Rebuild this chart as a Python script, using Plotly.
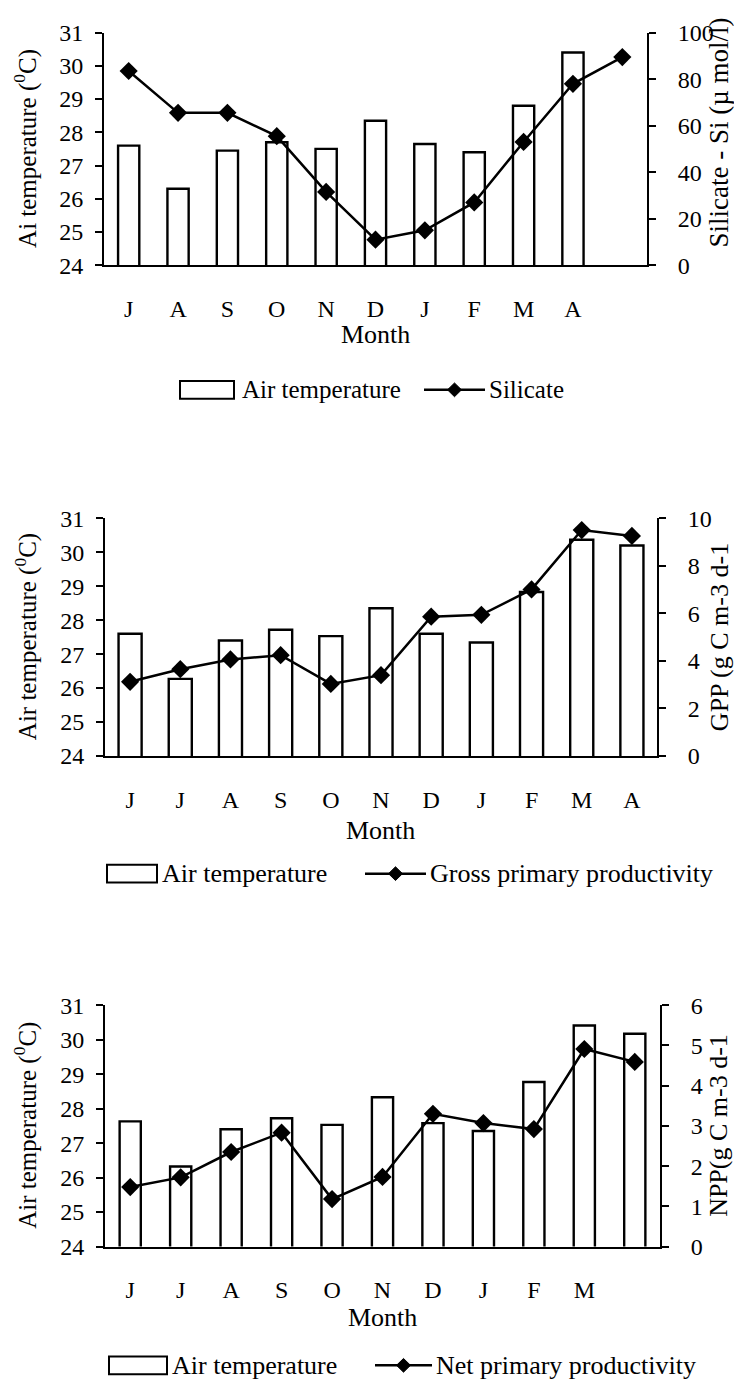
import plotly.graph_objects as go

W, H = 734, 1395
FONT = "Liberation Serif"

# ---------------- data ----------------
months_p1 = ["Jul", "Aug", "Sep", "Oct", "Nov", "Dec", "Jan", "Feb", "Mar", "Apr", "May"]
labels_p1 = ["J", "A", "S", "O", "N", "D", "J", "F", "M", "A"]
air_p1 = [27.6, 26.3, 27.45, 27.7, 27.5, 28.35, 27.65, 27.4, 28.8, 30.4]
silicate = [83.5, 65.5, 65.5, 55.5, 31.5, 11, 15, 27, 53, 78, 89.5]

months_p2 = ["Jun", "Jul", "Aug", "Sep", "Oct", "Nov", "Dec", "Jan", "Feb", "Mar", "Apr"]
labels_p2 = ["J", "J", "A", "S", "O", "N", "D", "J", "F", "M", "A"]
air_p2 = [27.6, 26.27, 27.4, 27.72, 27.53, 28.35, 27.6, 27.34, 28.83, 30.37, 30.2]
gpp = [3.12, 3.65, 4.06, 4.24, 3.03, 3.4, 5.86, 5.94, 7.01, 9.51, 9.26]

months_p3 = ["Jun", "Jul", "Aug", "Sep", "Oct", "Nov", "Dec", "Jan", "Feb", "Mar", "Apr"]
labels_p3 = ["J", "J", "A", "S", "O", "N", "D", "J", "F", "M"]
air_p3 = [27.63, 26.32, 27.4, 27.72, 27.53, 28.33, 27.58, 27.35, 28.77, 30.41, 30.17]
npp = [1.48, 1.72, 2.35, 2.83, 1.18, 1.73, 3.30, 3.07, 2.92, 4.91, 4.59]

temp_range = [24, 31]

panels = [
    dict(months=months_p1, labels=labels_p1, air=air_p1, line=silicate,
         line_name="Silicate", rrange=[0, 100], rdtick=20,
         ltitle="Ai temperature (<sup>0</sup>C)", rtitle="Silicate - Si (µ mol/l)",
         rtitle_bottom=241,
         x0=104, x1=647, ytop=20, ybot=257, month_y=328, bar_w=0.43,
         leg_y=384, leg=[180, 234, 240, 424, 485, 487], leg_size=25),
    dict(months=months_p2, labels=labels_p2, air=air_p2, line=gpp,
         line_name="Gross primary productivity", rrange=[0, 10], rdtick=2,
         ltitle="Air temperature (<sup>0</sup>C)", rtitle="GPP (g C m-3 d-1",
         rtitle_bottom=None,
         x0=105, x1=657, ytop=515, ybot=757, month_y=833, bar_w=0.46,
         leg_y=877, leg=[107, 157, 160, 365, 426, 428], leg_size=26),
    dict(months=months_p3, labels=labels_p3, air=air_p3, line=npp,
         line_name="Net primary productivity", rrange=[0, 6], rdtick=1,
         ltitle="Air temperature (<sup>0</sup>C)", rtitle="NPP(g C m-3 d-1",
         rtitle_bottom=None,
         x0=105, x1=660, ytop=1011, ybot=1257, month_y=1329, bar_w=0.42,
         leg_y=1378, leg=[109, 167, 170, 375, 432, 434], leg_size=26),
]


def fx(x):
    return x / W


def fy(y):
    return 1 - y / H


def nm(n):
    return "" if n == 1 else str(n)


fig = go.Figure()
layout = {}
annotations = []
shapes = []

axis_common = dict(showgrid=False, zeroline=False, linecolor="black", linewidth=2,
                   tickcolor="black", tickwidth=2, ticklen=7,
                   tickfont=dict(family=FONT, size=24, color="black"))

for p, P in enumerate(panels):
    n1, n2, n3, n4, n5 = (5 * p + k for k in range(1, 6))
    xdom = [fx(P["x0"]), fx(P["x1"])]
    ydom = [fy(P["ybot"]), fy(P["ytop"])]
    ncat = len(P["months"])

    fig.add_trace(go.Bar(
        x=P["months"][:len(P["air"])], y=P["air"], name="Air temperature",
        marker=dict(color="white", line=dict(color="black", width=2.4)),
        width=P["bar_w"], xaxis="x" + nm(n1), yaxis="y" + nm(n1), showlegend=False))
    fig.add_trace(go.Scatter(
        x=P["months"][:len(P["line"])], y=P["line"], name=P["line_name"],
        mode="lines+markers", line=dict(color="black", width=2.5),
        marker=dict(symbol="diamond", size=14, color="black"),
        xaxis="x" + nm(n1), yaxis="y" + nm(n2), showlegend=False))

    # category axis: labels only
    layout["xaxis" + nm(n1)] = dict(
        axis_common, domain=xdom, anchor="y" + nm(n1), type="category",
        categoryorder="array", categoryarray=P["months"],
        tickmode="array", tickvals=P["months"][:len(P["labels"])],
        ticktext=P["labels"], ticks="", showline=True,
        range=[-0.5, ncat - 0.5], ticklabelstandoff=21)
    layout["yaxis" + nm(n1)] = dict(
        axis_common, domain=ydom, anchor="x" + nm(n1), range=temp_range,
        dtick=1, ticks="outside", showline=True, ticklabelstandoff=7)
    layout["yaxis" + nm(n2)] = dict(
        axis_common, overlaying="y" + nm(n1), anchor="x" + nm(n1), side="right",
        range=P["rrange"], dtick=P["rdtick"], ticks="outside", showline=True,
        ticklabelstandoff=17)
    # crossing tick marks between month slots (outer and inner halves)
    bounds = [i - 0.5 for i in range(ncat + 1)]
    layout["xaxis" + nm(n2)] = dict(
        axis_common, overlaying="x" + nm(n1), anchor="y" + nm(n1),
        range=[-0.5, ncat - 0.5], tickmode="array", tickvals=bounds,
        ticks="inside", showticklabels=False, showline=False)
    layout["xaxis" + nm(n5)] = dict(
        axis_common, overlaying="x" + nm(n1), anchor="y" + nm(n1),
        range=[-0.5, ncat - 0.5], tickmode="array", tickvals=bounds,
        ticks="outside", showticklabels=False, showline=False)
    layout["yaxis" + nm(n3)] = dict(
        axis_common, overlaying="y" + nm(n1), anchor="x" + nm(n1), side="left",
        range=temp_range, dtick=1, ticks="inside", showticklabels=False, showline=False)
    layout["yaxis" + nm(n4)] = dict(
        axis_common, overlaying="y" + nm(n1), anchor="x" + nm(n1), side="right",
        range=P["rrange"], dtick=P["rdtick"], ticks="inside", showticklabels=False,
        showline=False)

    ymid = (P["ytop"] + P["ybot"]) / 2
    annotations.append(dict(
        text=P["ltitle"], x=fx(26), y=fy(ymid), xref="paper", yref="paper",
        textangle=-90, showarrow=False, xanchor="center", yanchor="middle",
        font=dict(family=FONT, size=25, color="black")))
    if P["rtitle_bottom"] is not None:
        annotations.append(dict(
            text=P["rtitle"], x=fx(719), y=fy(P["rtitle_bottom"]), xref="paper",
            yref="paper", textangle=-90, showarrow=False, xanchor="center",
            yanchor="bottom", font=dict(family=FONT, size=27, color="black")))
    else:
        annotations.append(dict(
            text=P["rtitle"], x=fx(719), y=fy(ymid), xref="paper", yref="paper",
            textangle=-90, showarrow=False, xanchor="center", yanchor="middle",
            font=dict(family=FONT, size=26, color="black")))
    annotations.append(dict(
        text="Month", x=fx((P["x0"] + P["x1"]) / 2), y=fy(P["month_y"]),
        xref="paper", yref="paper", showarrow=False, xanchor="center",
        yanchor="middle", font=dict(family=FONT, size=26, color="black")))

    # legend (drawn as layout decoration)
    r0, r1, t0, l0, l1, t1 = P["leg"]
    ly = P["leg_y"]
    shapes.append(dict(type="rect", xref="paper", yref="paper",
                       x0=fx(r0), x1=fx(r1), y0=fy(ly + 9), y1=fy(ly - 9),
                       line=dict(color="black", width=2), fillcolor="white"))
    annotations.append(dict(
        text="Air temperature", x=fx(t0), y=fy(ly), xref="paper", yref="paper",
        showarrow=False, xanchor="left", yanchor="middle",
        font=dict(family=FONT, size=P["leg_size"], color="black")))
    shapes.append(dict(type="line", xref="paper", yref="paper",
                       x0=fx(l0), x1=fx(l1), y0=fy(ly), y1=fy(ly),
                       line=dict(color="black", width=2.5)))
    cx = (l0 + l1) / 2
    d = 7
    shapes.append(dict(type="path", xref="paper", yref="paper",
                       path=f"M {fx(cx)},{fy(ly - d)} L {fx(cx + d)},{fy(ly)} "
                            f"L {fx(cx)},{fy(ly + d)} L {fx(cx - d)},{fy(ly)} Z",
                       fillcolor="black", line=dict(color="black", width=1)))
    annotations.append(dict(
        text=P["line_name"], x=fx(t1), y=fy(ly), xref="paper", yref="paper",
        showarrow=False, xanchor="left", yanchor="middle",
        font=dict(family=FONT, size=P["leg_size"], color="black")))

fig.update_layout(
    width=W, height=H, margin=dict(l=0, r=0, t=0, b=0),
    paper_bgcolor="white", plot_bgcolor="white",
    showlegend=False, annotations=annotations, shapes=shapes,
    font=dict(family=FONT, color="black"), **layout)

fig.write_html("out.html")
